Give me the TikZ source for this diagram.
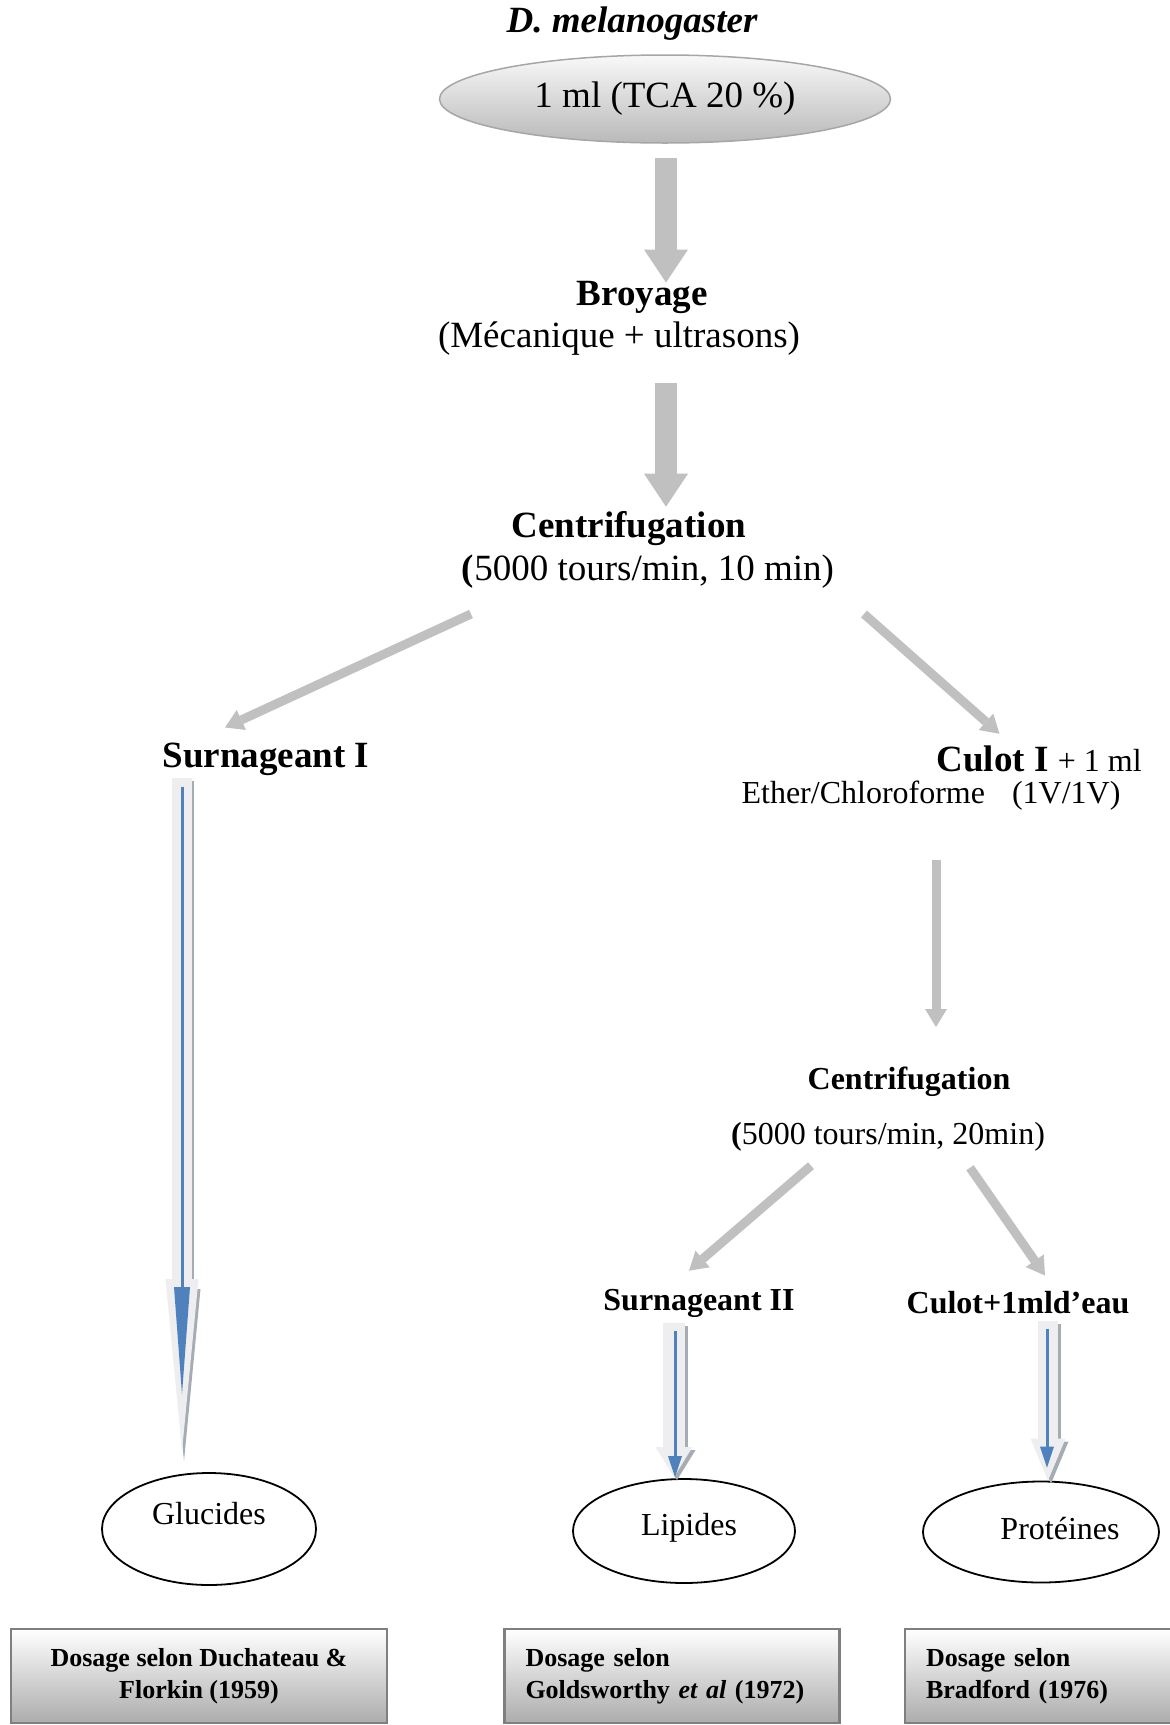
\documentclass[tikz,border=0pt]{standalone}
\usepackage{fontspec}
\setmainfont{Liberation Serif}
\usepackage{xcolor}
\usepackage{tikz}
\usetikzlibrary{shapes,arrows.meta,positioning}

\definecolor{flechegris}{HTML}{C0C0C0}
\definecolor{bleu}{HTML}{4F81BD}
\definecolor{bande}{HTML}{EEEEF0}
\definecolor{ombre}{HTML}{A6ACB4}
\definecolor{bordgris}{HTML}{7F7F7F}

\tikzset{
    grandgras/.style={font=\fontsize{37}{40}\selectfont\bfseries, inner sep=2pt},
    grandtexte/.style={font=\fontsize{37}{40}\selectfont, inner sep=2pt},
    moyengras/.style={font=\fontsize{32}{36}\selectfont\bfseries, inner sep=2pt},
    moyentexte/.style={font=\fontsize{32}{36}\selectfont, inner sep=2pt},
    resultat/.style={ellipse, draw=black, line width=1.8pt, inner sep=0pt,
        font=\fontsize{32}{36}\selectfont},
    dosage/.style={rectangle, draw=bordgris, line width=2.5pt, top color=white,
        bottom color=gray!65, minimum height=94pt,
        font=\fontsize{26}{32}\selectfont\bfseries},
    grossefleche/.style={draw=flechegris, line width=22pt,
        -{Triangle[width=44pt,length=33pt,line width=0pt]}},
    fleche/.style={draw=flechegris, line width=9pt,
        -{Triangle[width=22pt,length=18pt,line width=0pt]}},
    bandeombre/.style={draw=ombre, line width=#1},
    bandeclaire/.style={draw=bande, line width=#1},
    traitbleu/.style={draw=bleu, line width=3pt}
}

\begin{document}
\begin{tikzpicture}[x=1pt,y=-1pt]
    \useasboundingbox (0,0) rectangle (1170,1725);

    % depart
    \node[font=\fontsize{37}{40}\selectfont\bfseries\itshape] (espece) at (632,24) {D. melanogaster};
    \node[ellipse, draw=gray!70, line width=1.5pt, top color=gray!5, bottom color=gray!55,
          minimum width=451pt, minimum height=88pt, inner sep=0pt,
          font=\fontsize{37}{40}\selectfont] (tca) at (665,99) {1 ml (TCA 20 \%)};

    \node[grandgras] (broyage) at (642,297) {Broyage};
    \node[grandtexte] (broyagedet) at (619,339) {(Mécanique + ultrasons)};

    \node[grandgras] (centri) at (629,529) {Centrifugation};
    \node[grandtexte] (centridet) at (648,572) {\textbf{(}5000 tours/min, 10 min)};

    \node[grandgras] (surn1) at (266,759) {Surnageant I};
    \node[grandgras, anchor=east] (culot1) at (1144,759) {Culot I {\mdseries\fontsize{32}{36}\selectfont + 1 ml}};
    \node[moyentexte] (culot1det) at (931,796) {Ether/Chloroforme\hspace{27pt}(1V/1V)};

    \node[moyengras] (centri2) at (909,1082) {Centrifugation};
    \node[moyentexte] (centri2det) at (888,1137) {\textbf{(}5000 tours/min, 20min)};

    \node[moyengras] (surn2) at (699,1303) {Surnageant II};
    \node[moyengras] (culot2) at (1018,1303) {Culot+1mld’eau};

    % resultats
    \node[resultat, minimum width=214pt, minimum height=112pt] (glucides) at (209,1529) {\raisebox{32pt}{Glucides}};
    \node[resultat, minimum width=222pt, minimum height=104pt] (lipides) at (684,1531) {\hspace*{10pt}\raisebox{14pt}{Lipides}};
    \node[resultat, minimum width=236pt, minimum height=101pt] (proteines) at (1041,1532) {\hspace*{38pt}\raisebox{8pt}{Protéines}};

    \node[dosage, minimum width=376pt, align=center] (dos1) at (199,1676) {Dosage selon Duchateau \&\\ Florkin (1959)};
    \node[dosage, minimum width=335pt, text width=293pt, align=left] (dos2) at (672,1676) {Dosage selon\\ Goldsworthy \textit{et al} (1972)};
    \node[dosage, minimum width=270pt, text width=228pt, align=left] (dos3) at (1040,1676) {Dosage selon\\ Bradford (1976)};

    % fleches grises
    \draw[grossefleche, shorten <=14pt] ([xshift=1pt]tca.south) -- ([xshift=24pt,yshift=-4pt]broyage.north);
    \draw[grossefleche] ([xshift=47pt,yshift=-25pt]broyagedet.south) -- ([xshift=37pt,yshift=3pt]centri.north);
    \draw[fleche] ([xshift=-177pt,yshift=-23pt]centridet.south) -- ([xshift=-41pt,yshift=13pt]surn1.north);
    \draw[fleche] ([xshift=216pt,yshift=-23pt]centridet.south) -- ([xshift=65pt,yshift=10pt]culot1.north west);
    \draw[fleche, shorten <=47pt, shorten >=38pt] ([xshift=5pt]culot1det.south) -- ([xshift=27pt]centri2.north);
    \draw[fleche] ([xshift=-77pt,yshift=-12pt]centri2det.south) -- ([xshift=-10pt,yshift=16pt]surn2.north);
    \draw[fleche] ([xshift=82pt,yshift=-14pt]centri2det.south) -- ([xshift=27pt,yshift=14pt]culot2.north);

    % fleches doubles bleues
    \coordinate (g1) at ([xshift=-84pt]surn1.south);
    \coordinate (g2) at ([xshift=-27pt,yshift=21pt]glucides.north);
    \draw[bandeombre=20pt, -{Triangle[width=33pt,length=172pt,line width=0pt]}] ([xshift=2pt,yshift=-3pt]g1) -- ([xshift=2pt,yshift=-10pt]g2);
    \draw[bandeclaire=20pt, -{Triangle[width=33pt,length=172pt,line width=0pt]}] (g1) -- (g2);
    \draw[traitbleu, -{Triangle[width=16pt,length=107pt,line width=0pt]}] ([yshift=-9pt]g1) -- ([yshift=57pt]g2);

    \coordinate (l1) at ([xshift=-25pt,yshift=-4pt]surn2.south);
    \coordinate (l2) at ([xshift=-10pt,yshift=1pt]lipides.north);
    \draw[bandeombre=22pt, -{Triangle[width=37pt,length=30pt,line width=0pt]}] ([xshift=3pt,yshift=-3pt]l1) -- ([xshift=3pt,yshift=-3pt]l2);
    \draw[bandeclaire=22pt, -{Triangle[width=37pt,length=30pt,line width=0pt]}] (l1) -- (l2);
    \draw[traitbleu, -{Triangle[width=14pt,length=21pt,line width=0pt]}] ([xshift=1pt,yshift=-8pt]l1) -- ([xshift=1pt]l2);

    \coordinate (p1) at ([xshift=30pt,yshift=-4pt]culot2.south);
    \coordinate (p2) at ([xshift=7pt]proteines.north);
    \draw[bandeombre=20pt, -{Triangle[width=35pt,length=42pt,line width=0pt]}] ([xshift=3pt,yshift=-3pt]p1) -- ([xshift=3pt,yshift=-3pt]p2);
    \draw[bandeclaire=20pt, -{Triangle[width=35pt,length=42pt,line width=0pt]}] (p1) -- (p2);
    \draw[traitbleu, -{Triangle[width=14pt,length=21pt,line width=0pt]}] ([xshift=-1pt,yshift=-8pt]p1) -- ([xshift=-1pt,yshift=13pt]p2);
\end{tikzpicture}
\end{document}
